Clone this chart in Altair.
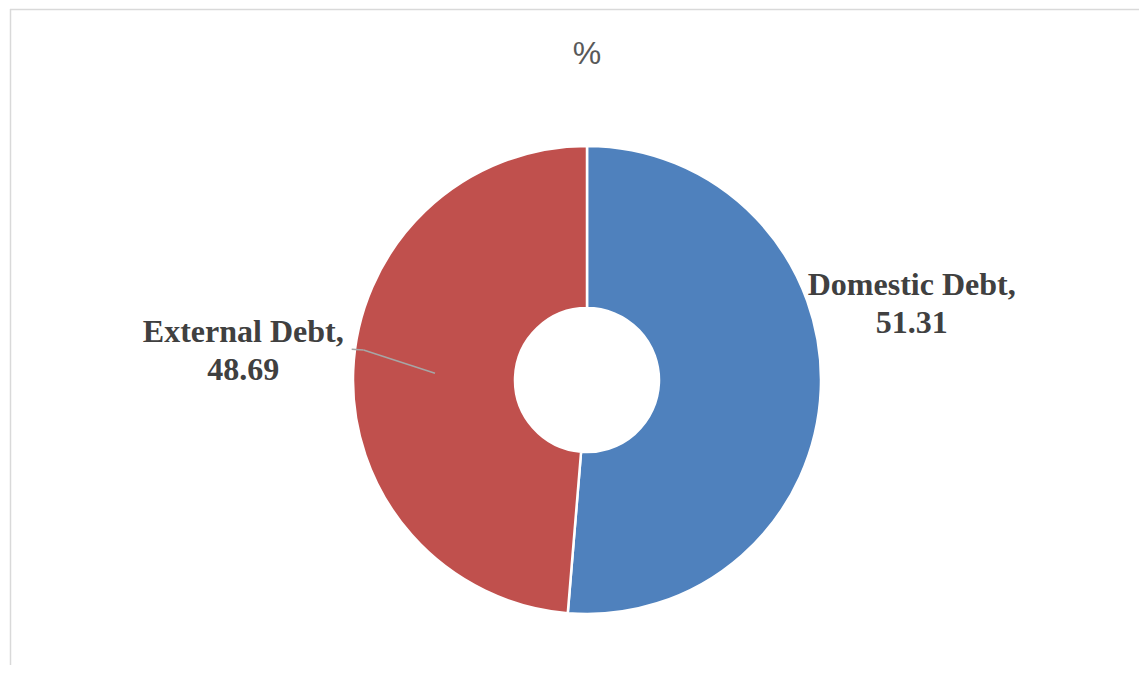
import altair as alt
import pandas as pd

categories = ["Domestic Debt", "External Debt"]
values = [51.31, 48.69]
colors = ["#4F81BD", "#C0504D"]
order_idx = [0, 1]

df = pd.DataFrame({"cat": categories, "value": values, "ord": order_idx})

W, H = 1131, 657
CX, CY = 579, 372

base = alt.Chart(df).encode(
    theta=alt.Theta("value:Q", stack=True),
    order=alt.Order("ord:Q"),
)

arcs = base.mark_arc(
    innerRadius=72, outerRadius=234, stroke="white", strokeWidth=2.5
).encode(
    x=alt.value(CX), y=alt.value(CY),
    color=alt.Color("cat:N", scale=alt.Scale(domain=categories, range=colors), legend=None),
)

def label_layer(name, radius, dx, dy):
    return base.transform_calculate(
        lab=f"datum.cat == '{name}' ? datum.cat + ',\\n' + format(datum.value, '.2f') : ''"
    ).mark_text(
        radius=radius, dx=dx, dy=dy, font="Liberation Serif", fontWeight="bold",
        fontSize=32, lineHeight=38, color="#404040", align="center",
        baseline="alphabetic", lineBreak="\n",
    ).encode(x=alt.value(CX), y=alt.value(CY), text="lab:N")

lab_dom = label_layer("Domestic Debt", 325, 0, -98)
lab_ext = label_layer("External Debt", 344, 0, -24)

leader1 = alt.Chart(df).mark_rule(color="#A6A6A6", strokeWidth=1.5).encode(
    x=alt.value(343.7), x2=alt.value(355.5), y=alt.value(341.3), y2=alt.value(342.0)
).transform_filter("datum.ord == 1")
leader2 = alt.Chart(df).mark_rule(color="#A6A6A6", strokeWidth=1.5).encode(
    x=alt.value(355.5), x2=alt.value(427), y=alt.value(342.0), y2=alt.value(365.3)
).transform_filter("datum.ord == 1")

title = alt.Chart(df).mark_text(
    text="%", font="Liberation Sans", fontSize=32, color="#595959",
    align="center", baseline="alphabetic",
).encode(x=alt.value(579), y=alt.value(56)).transform_filter("datum.ord == 0")

border_top = alt.Chart(df).mark_rule(color="#D9D9D9", strokeWidth=1.5).encode(
    x=alt.value(2), x2=alt.value(W + 10), y=alt.value(1.5), y2=alt.value(1.5)
).transform_filter("datum.ord == 0")
border_left = alt.Chart(df).mark_rule(color="#D9D9D9", strokeWidth=1.5).encode(
    x=alt.value(2.5), x2=alt.value(2.5), y=alt.value(1), y2=alt.value(H + 10)
).transform_filter("datum.ord == 0")

chart = alt.layer(
    border_top, border_left, arcs, leader1, leader2, lab_dom, lab_ext, title
).properties(
    width=W, height=H, padding=0, autosize=alt.AutoSizeParams(type="none"),
    background="white",
).configure_view(stroke=None)

chart.save("out.html", embed_options={"renderer": "svg", "actions": False})
